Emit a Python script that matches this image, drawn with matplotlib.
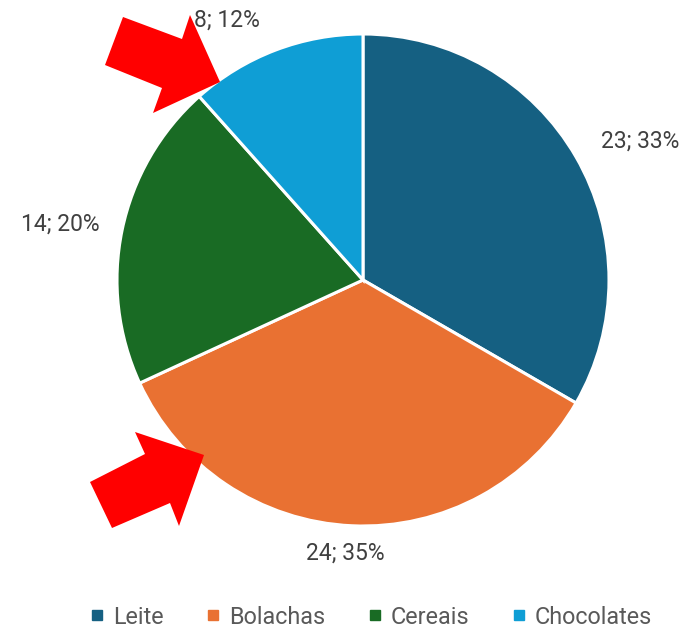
import matplotlib.pyplot as plt
from matplotlib.patches import Polygon
from matplotlib.lines import Line2D

categories = ['Leite', 'Bolachas', 'Cereais', 'Chocolates']
values = [23, 24, 14, 8]
colors = ['#156082', '#E97132', '#196B24', '#0F9ED5']

W, H = 684, 628
fig = plt.figure(figsize=(W / 100, H / 100), dpi=100)
plt.rcParams['font.family'] = ['Roboto', 'DejaVu Sans']

# pie centre and radius in pixels
cx, cy, r = 363, 280, 246
ax = fig.add_axes([(cx - r) / W, 1 - (cy + r) / H, 2 * r / W, 2 * r / H])
wedges, _ = ax.pie(values, colors=colors, startangle=90, counterclock=False,
                   wedgeprops=dict(edgecolor='white', linewidth=2.2))
ax.set_xlim(-1, 1)
ax.set_ylim(-1, 1)
ax.set_aspect('equal')
ax.axis('off')

total = sum(values)
label_pos = [(1.126, 0.565), (-0.073, -1.11), (-1.232, 0.228), (-0.553, 1.057)]
for v, (x, y) in zip(values, label_pos):
    ax.text(x, y, '%d; %d%%' % (v, round(v * 100 / total)), ha='center', va='center',
            fontsize=16.5, color='#404040', clip_on=False)

# red arrows (pixel coordinates)
def px(pts):
    return [(x / W, 1 - y / H) for x, y in pts]

arrow1 = [(105, 65), (123, 17), (182, 39), (190, 15), (220, 82), (153, 113), (162, 88)]
arrow2 = [(90, 482), (145, 454), (135, 432), (204, 455), (179, 526), (170, 503), (112, 528)]
for a in (arrow1, arrow2):
    fig.patches.append(Polygon(px(a), closed=True, facecolor='#FF0000', edgecolor='none',
                               transform=fig.transFigure, zorder=5))

handles = [Line2D([], [], marker='s', linestyle='none', markersize=7.5,
                  markerfacecolor=c, markeredgecolor=c) for c in colors]
fig.legend(handles, categories, loc='center', bbox_to_anchor=(370 / W, 1 - 617 / H),
           ncol=4, frameon=False, fontsize=16.8, labelcolor='#595959',
           handletextpad=0.3, columnspacing=1.7, handlelength=0.8)

fig.savefig('out.png', dpi=100)
